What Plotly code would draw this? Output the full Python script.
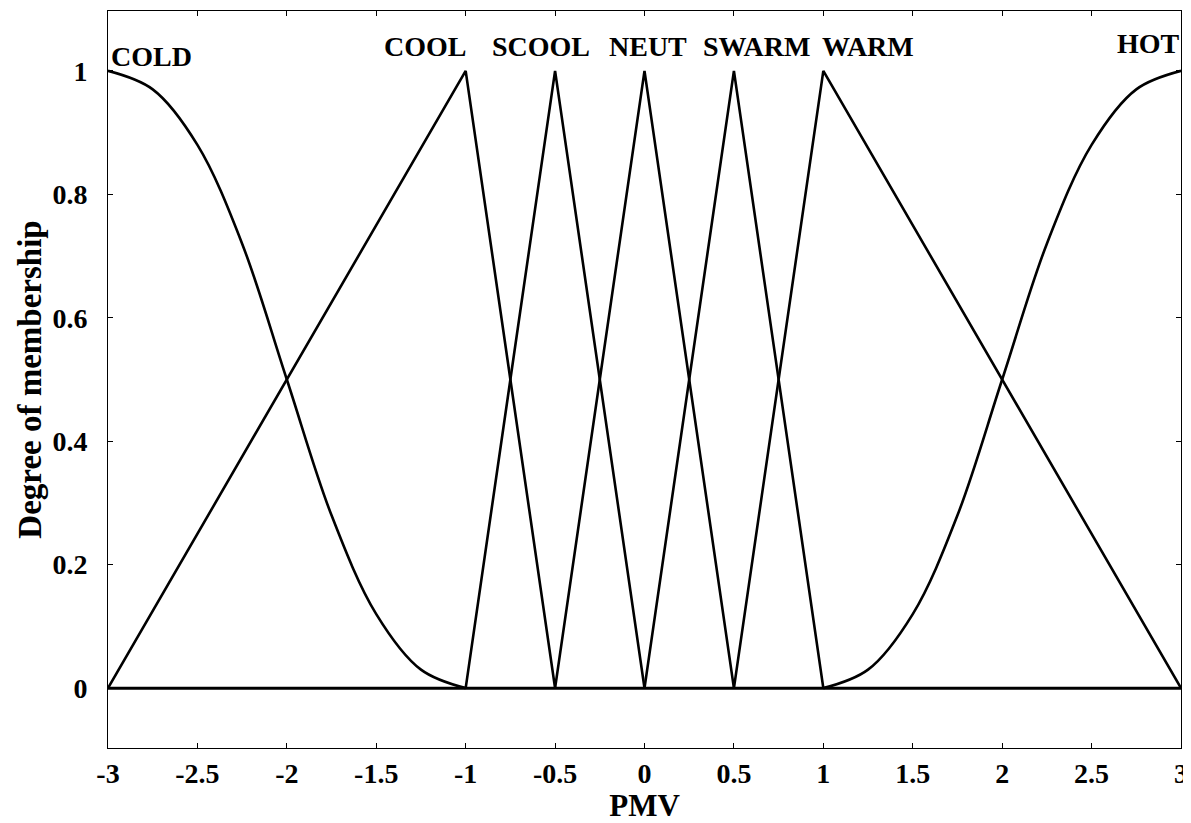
import plotly.graph_objects as go

# membership functions
pmv_cold = [-3, -2.75, -2.5, -2.25, -2, -1.75, -1.5, -1.25, -1]
mu_cold = [1, 0.97, 0.88, 0.72, 0.5, 0.28, 0.12, 0.03, 0]

pmv_cool = [-3, -1, -0.5]
mu_cool = [0, 1, 0]

pmv_scool = [-1, -0.5, 0]
mu_scool = [0, 1, 0]

pmv_neut = [-0.5, 0, 0.5]
mu_neut = [0, 1, 0]

pmv_swarm = [0, 0.5, 1]
mu_swarm = [0, 1, 0]

pmv_warm = [0.5, 1, 3]
mu_warm = [0, 1, 0]

pmv_hot = [1, 1.25, 1.5, 1.75, 2, 2.25, 2.5, 2.75, 3]
mu_hot = [0, 0.03, 0.12, 0.28, 0.5, 0.72, 0.88, 0.97, 1]

labels = ['COLD', 'COOL', 'SCOOL', 'NEUT', 'SWARM', 'WARM', 'HOT']
label_x = [-2.754, -1.227, -0.58, 0.02, 0.626, 1.25, 2.82]
label_y = [1.024, 1.04, 1.04, 1.04, 1.04, 1.04, 1.044]

x_ticks = [-3, -2.5, -2, -1.5, -1, -0.5, 0, 0.5, 1, 1.5, 2, 2.5, 3]
x_ticktext = ['-3', '-2.5', '-2', '-1.5', '-1', '-0.5', '0', '0.5', '1', '1.5', '2', '2.5', '3']
y_ticks = [0, 0.2, 0.4, 0.6, 0.8, 1]
y_ticktext = ['0', '0.2', '0.4', '0.6', '0.8', '1']

FONT = 'Liberation Serif, Times New Roman, serif'

fig = go.Figure()

# zero line drawn along the whole universe
fig.add_trace(go.Scatter(x=[-3, 3], y=[0, 0], mode='lines',
                         line=dict(color='black', width=3), showlegend=False))

# smooth Z / S shaped ends
for xs, ys in [(pmv_cold, mu_cold), (pmv_hot, mu_hot)]:
    fig.add_trace(go.Scatter(x=xs, y=ys, mode='lines', line_shape='spline',
                             line=dict(color='black', width=2.6), showlegend=False))

# triangular sets
for xs, ys in [(pmv_cool, mu_cool), (pmv_scool, mu_scool), (pmv_neut, mu_neut),
               (pmv_swarm, mu_swarm), (pmv_warm, mu_warm)]:
    fig.add_trace(go.Scatter(x=xs, y=ys, mode='lines',
                             line=dict(color='black', width=2.6), showlegend=False))

for txt, lx, ly in zip(labels, label_x, label_y):
    fig.add_annotation(x=lx, y=ly, text=txt, showarrow=False,
                       xanchor='center', yanchor='middle',
                       font=dict(family=FONT, size=28, color='black', weight='bold'))

# page body has an 8px margin, so the figure is a bit smaller than the window
fig.update_layout(
    width=1183, height=815,
    margin=dict(l=100, r=10, t=3, b=75),
    paper_bgcolor='white',
    plot_bgcolor='white',
    font=dict(family=FONT, color='black'),
)

fig.update_xaxes(
    range=[-3, 3], automargin=False,
    tickvals=x_ticks, ticktext=x_ticktext,
    ticks='inside', ticklen=5, tickcolor='black',
    showline=True, linecolor='black', linewidth=1, mirror='ticks',
    showgrid=False, zeroline=False,
    tickfont=dict(family=FONT, size=28, weight='bold'),
    ticklabelstandoff=0,
    title=dict(text='PMV', font=dict(family=FONT, size=31, weight='bold'), standoff=24),
)
fig.update_yaxes(
    range=[-0.097, 1.097], automargin=False,
    tickvals=y_ticks, ticktext=y_ticktext,
    ticks='inside', ticklen=5, tickcolor='black',
    showline=True, linecolor='black', linewidth=1, mirror='ticks',
    showgrid=False, zeroline=False,
    tickfont=dict(family=FONT, size=28, weight='bold'),
    ticklabelstandoff=14,
    title=dict(text='Degree of membership', font=dict(family=FONT, size=33, weight='bold'), standoff=0),
)

fig.write_html('out.html')
